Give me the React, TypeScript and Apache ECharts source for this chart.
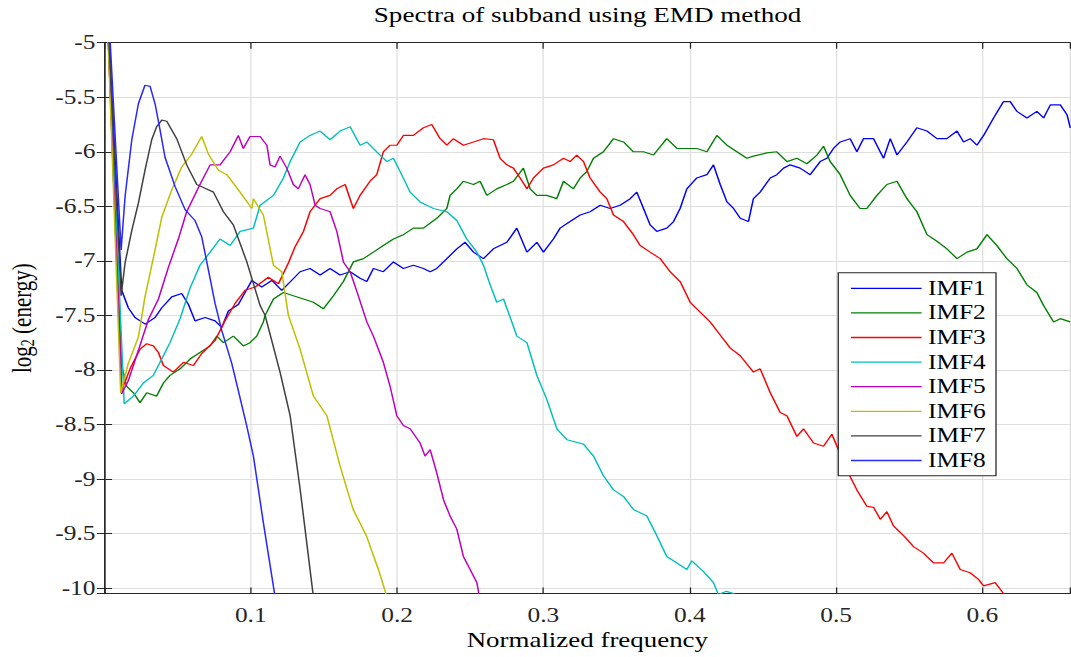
import React, { useEffect, useRef } from "react";
import * as echarts from "echarts";

// ---------- data (normalized frequency, log2 energy) ----------
const seriesNames = ["IMF1", "IMF2", "IMF3", "IMF4", "IMF5", "IMF6", "IMF7", "IMF8"];
const seriesColors = ["#0000ff", "#008000", "#ff0000", "#00bfbf", "#bf00bf", "#bfbf00", "#404040", "#2828ff"];

const imf1 = [
  [0.001, -4.4], [0.0118, -7.27], [0.0163, -7.43], [0.0209, -7.52], [0.0278, -7.58], [0.0346, -7.52],
  [0.0392, -7.43], [0.046, -7.33], [0.0528, -7.3], [0.0574, -7.4], [0.0619, -7.55], [0.0688, -7.52],
  [0.0756, -7.55], [0.0802, -7.61], [0.0847, -7.46], [0.0915, -7.4], [0.1007, -7.18], [0.1075, -7.24],
  [0.1144, -7.18], [0.1212, -7.27], [0.1257, -7.21], [0.1337, -7.1], [0.1405, -7.07], [0.1474, -7.13],
  [0.1542, -7.07], [0.161, -7.13], [0.1679, -7.1], [0.1747, -7.16], [0.1793, -7.19], [0.1838, -7.07],
  [0.1906, -7.1], [0.1975, -7.01], [0.2043, -7.07], [0.2111, -7.04], [0.218, -7.07], [0.2226, -7.1],
  [0.2271, -7.07], [0.234, -6.98], [0.2408, -6.89], [0.2465, -6.83], [0.2522, -6.92], [0.259, -6.98],
  [0.2658, -6.89], [0.275, -6.83], [0.2818, -6.7], [0.2887, -6.92], [0.2955, -6.83], [0.3, -6.92],
  [0.3068, -6.8], [0.3114, -6.7], [0.3182, -6.64], [0.3251, -6.58], [0.3319, -6.55], [0.3388, -6.49],
  [0.3456, -6.52], [0.3524, -6.49], [0.3593, -6.43], [0.3638, -6.37], [0.3684, -6.52], [0.3729, -6.67],
  [0.3775, -6.73], [0.3843, -6.7], [0.3889, -6.64], [0.3934, -6.52], [0.398, -6.34], [0.4048, -6.24],
  [0.4117, -6.21], [0.4162, -6.12], [0.4208, -6.3], [0.4254, -6.46], [0.4299, -6.52], [0.4345, -6.61],
  [0.4401, -6.64], [0.4435, -6.43], [0.4481, -6.37], [0.455, -6.24], [0.4595, -6.21], [0.4641, -6.15],
  [0.4686, -6.12], [0.4754, -6.15], [0.4823, -6.21], [0.4891, -6.09], [0.4937, -6.06], [0.4982, -5.97],
  [0.5028, -5.91], [0.5096, -5.88], [0.5142, -6.0], [0.5187, -5.88], [0.5256, -5.88], [0.5324, -6.06],
  [0.537, -5.88], [0.5416, -6.03], [0.5484, -5.91], [0.5552, -5.78], [0.5621, -5.81], [0.5689, -5.88],
  [0.5757, -5.88], [0.5826, -5.81], [0.5871, -5.91], [0.5916, -5.88], [0.5962, -5.94], [0.6008, -5.85],
  [0.6076, -5.69], [0.6144, -5.54], [0.619, -5.54], [0.6236, -5.63], [0.6304, -5.69], [0.6372, -5.63],
  [0.6418, -5.69], [0.6464, -5.57], [0.6532, -5.57], [0.6578, -5.66], [0.66, -5.78],
];

const imf2 = [
  [0.001, -4.4], [0.0118, -7.96], [0.0152, -8.15], [0.0198, -8.21], [0.0243, -8.3], [0.0289, -8.21],
  [0.0357, -8.24], [0.0403, -8.12], [0.0448, -8.05], [0.0517, -7.99], [0.0585, -7.9], [0.0653, -7.84],
  [0.0722, -7.78], [0.0768, -7.69], [0.0813, -7.75], [0.0881, -7.69], [0.0949, -7.78], [0.0995, -7.75],
  [0.1041, -7.69], [0.1086, -7.56], [0.1098, -7.5], [0.1155, -7.35], [0.1223, -7.29], [0.1291, -7.32],
  [0.136, -7.35], [0.1428, -7.38], [0.1496, -7.44], [0.1565, -7.32], [0.1633, -7.19], [0.1701, -7.01],
  [0.177, -6.98], [0.1838, -6.92], [0.1906, -6.86], [0.1975, -6.8], [0.2043, -6.76], [0.2111, -6.7],
  [0.218, -6.7], [0.2271, -6.61], [0.234, -6.52], [0.2362, -6.4], [0.2408, -6.34], [0.2453, -6.27],
  [0.2522, -6.3], [0.2567, -6.27], [0.2613, -6.4], [0.2681, -6.34], [0.275, -6.3], [0.2795, -6.27],
  [0.2863, -6.15], [0.2909, -6.34], [0.2955, -6.4], [0.3023, -6.4], [0.3091, -6.43], [0.3137, -6.27],
  [0.3205, -6.34], [0.3251, -6.24], [0.3297, -6.18], [0.3342, -6.06], [0.341, -6.0], [0.3479, -5.88],
  [0.3547, -5.91], [0.3615, -6.0], [0.3684, -6.0], [0.3752, -6.03], [0.3843, -5.88], [0.3912, -5.97],
  [0.398, -5.97], [0.4048, -5.97], [0.4117, -6.0], [0.4185, -5.85], [0.4254, -5.94], [0.4322, -6.0],
  [0.439, -6.06], [0.4435, -6.04], [0.4527, -6.01], [0.4595, -6.0], [0.4664, -6.09], [0.4732, -6.06],
  [0.48, -6.11], [0.4869, -6.03], [0.4914, -5.95], [0.496, -6.09], [0.5028, -6.21], [0.5096, -6.4],
  [0.5164, -6.52], [0.521, -6.52], [0.5279, -6.4], [0.5347, -6.3], [0.5416, -6.27], [0.5484, -6.43],
  [0.5552, -6.55], [0.5621, -6.76], [0.5689, -6.82], [0.5757, -6.89], [0.5826, -6.98], [0.5894, -6.92],
  [0.5962, -6.89], [0.6031, -6.76], [0.6099, -6.86], [0.6167, -6.98], [0.6236, -7.07], [0.6304, -7.22],
  [0.6372, -7.29], [0.6418, -7.41], [0.6486, -7.56], [0.6532, -7.53], [0.66, -7.56],
];

const imf3 = [
  [0.001, -4.4], [0.0118, -8.19], [0.0175, -7.99], [0.0243, -7.81], [0.0289, -7.76], [0.0334, -7.78],
  [0.0369, -7.84], [0.0403, -7.96], [0.0471, -8.02], [0.054, -7.93], [0.0608, -7.96], [0.0665, -7.85],
  [0.0756, -7.73], [0.0824, -7.55], [0.0893, -7.39], [0.0961, -7.27], [0.103, -7.24], [0.112, -7.15],
  [0.1189, -7.21], [0.1257, -7.02], [0.1303, -6.87], [0.136, -6.73], [0.1405, -6.55], [0.1474, -6.43],
  [0.1542, -6.4], [0.1588, -6.34], [0.1645, -6.3], [0.1701, -6.52], [0.1747, -6.4], [0.1815, -6.27],
  [0.1861, -6.21], [0.1906, -6.0], [0.1952, -5.94], [0.1998, -5.94], [0.2043, -5.85], [0.2111, -5.85],
  [0.218, -5.78], [0.2237, -5.75], [0.2294, -5.88], [0.234, -5.94], [0.2385, -5.88], [0.2453, -5.94],
  [0.2522, -5.91], [0.259, -5.88], [0.2658, -5.89], [0.2704, -6.06], [0.275, -6.12], [0.2795, -6.15],
  [0.2841, -6.24], [0.2887, -6.34], [0.2932, -6.24], [0.3, -6.15], [0.3068, -6.12], [0.3137, -6.06],
  [0.3182, -6.09], [0.3228, -6.03], [0.3274, -6.09], [0.3319, -6.24], [0.3388, -6.37], [0.3433, -6.43],
  [0.3479, -6.58], [0.3547, -6.64], [0.3615, -6.76], [0.3661, -6.86], [0.3729, -6.92], [0.3798, -6.98],
  [0.3866, -7.1], [0.3934, -7.19], [0.4003, -7.38], [0.4071, -7.47], [0.4139, -7.56], [0.4208, -7.68],
  [0.4277, -7.8], [0.4345, -7.87], [0.4435, -8.02], [0.4481, -7.99], [0.455, -8.21], [0.4618, -8.39],
  [0.4664, -8.42], [0.4732, -8.61], [0.4777, -8.54], [0.4846, -8.67], [0.4914, -8.7], [0.4971, -8.59],
  [0.5006, -8.7], [0.5074, -8.92], [0.5142, -9.1], [0.521, -9.25], [0.5256, -9.26], [0.5302, -9.37],
  [0.5347, -9.3], [0.5392, -9.43], [0.5461, -9.52], [0.5529, -9.62], [0.5597, -9.68], [0.5666, -9.77],
  [0.5734, -9.77], [0.5791, -9.68], [0.5848, -9.83], [0.5916, -9.86], [0.5973, -9.92], [0.6008, -9.98],
  [0.6087, -9.95], [0.6144, -10.05], [0.617, -10.1],
];

const imf4 = [
  [0.001, -4.4], [0.0135, -8.31], [0.0198, -8.24], [0.0266, -8.12], [0.0334, -8.05], [0.0403, -7.87],
  [0.0448, -7.75], [0.0517, -7.53], [0.0585, -7.25], [0.0653, -7.04], [0.0722, -6.92], [0.079, -6.8],
  [0.0859, -6.86], [0.0927, -6.73], [0.1018, -6.7], [0.1064, -6.49], [0.1155, -6.4], [0.1223, -6.24],
  [0.1269, -6.09], [0.1337, -5.91], [0.1405, -5.85], [0.1474, -5.81], [0.1542, -5.89], [0.161, -5.81],
  [0.1679, -5.77], [0.1747, -5.94], [0.1793, -5.91], [0.1861, -6.0], [0.193, -6.09], [0.1975, -6.06],
  [0.202, -6.18], [0.2089, -6.37], [0.2157, -6.46], [0.2248, -6.52], [0.234, -6.55], [0.2408, -6.63],
  [0.2476, -6.8], [0.2545, -6.92], [0.259, -7.04], [0.2636, -7.22], [0.2681, -7.38], [0.2727, -7.35],
  [0.2784, -7.56], [0.2818, -7.69], [0.2887, -7.75], [0.2955, -8.05], [0.3023, -8.27], [0.3092, -8.54],
  [0.316, -8.64], [0.3274, -8.68], [0.3342, -8.79], [0.341, -8.97], [0.3479, -9.1], [0.3547, -9.16],
  [0.3615, -9.28], [0.3707, -9.34], [0.3775, -9.52], [0.3843, -9.71], [0.3912, -9.77], [0.398, -9.83],
  [0.4014, -9.75], [0.4094, -9.85], [0.4162, -9.95], [0.4196, -10.06], [0.425, -10.03], [0.43, -10.05],
  [0.432, -10.1],
];

const imf5 = [
  [0.001, -4.4], [0.0118, -8.22], [0.0163, -8.1], [0.0232, -7.82], [0.03, -7.54], [0.0369, -7.35],
  [0.0437, -7.06], [0.0505, -6.8], [0.0562, -6.55], [0.0653, -6.3], [0.0722, -6.12], [0.079, -6.12],
  [0.0859, -6.0], [0.0915, -5.85], [0.0949, -5.97], [0.0995, -5.86], [0.1064, -5.86], [0.111, -5.94],
  [0.1132, -6.12], [0.1166, -6.14], [0.12, -6.04], [0.1246, -6.15], [0.1291, -6.3], [0.1325, -6.34],
  [0.1371, -6.21], [0.1405, -6.3], [0.144, -6.49], [0.1474, -6.52], [0.1542, -6.55], [0.1588, -6.73],
  [0.1633, -7.01], [0.1679, -7.1], [0.1725, -7.28], [0.1793, -7.56], [0.1838, -7.69], [0.1906, -7.93],
  [0.1952, -8.15], [0.1998, -8.42], [0.2043, -8.51], [0.2089, -8.54], [0.2157, -8.67], [0.2191, -8.79],
  [0.2226, -8.73], [0.227, -8.94], [0.2317, -9.19], [0.2362, -9.34], [0.2408, -9.46], [0.2453, -9.71],
  [0.2499, -9.83], [0.2545, -9.95], [0.2563, -10.08],
];

const imf6 = [
  [0.001, -4.4], [0.0111, -8.21], [0.0163, -7.94], [0.0232, -7.7], [0.0277, -7.33], [0.0346, -6.9],
  [0.0392, -6.6], [0.046, -6.35], [0.0528, -6.14], [0.0597, -6.02], [0.0665, -5.86], [0.071, -6.02],
  [0.0779, -6.17], [0.0836, -6.21], [0.0927, -6.37], [0.1007, -6.52], [0.1018, -6.43], [0.1086, -6.58],
  [0.1155, -7.04], [0.1212, -7.1], [0.1257, -7.5], [0.1337, -7.81], [0.1428, -8.24], [0.152, -8.42],
  [0.161, -8.88], [0.17, -9.28], [0.179, -9.52], [0.188, -9.86], [0.193, -10.08],
];

const imf7 = [
  [0.001, -4.4], [0.0114, -7.32], [0.0141, -7.02], [0.0187, -6.72], [0.0232, -6.47], [0.0277, -6.17],
  [0.0323, -5.89], [0.0357, -5.77], [0.0392, -5.71], [0.0426, -5.72], [0.0494, -5.88], [0.0562, -6.12],
  [0.0631, -6.3], [0.068, -6.33], [0.0745, -6.37], [0.0813, -6.55], [0.0881, -6.67], [0.0973, -7.01],
  [0.1064, -7.41], [0.1098, -7.5], [0.12, -8.02], [0.1269, -8.42], [0.1337, -9.09], [0.1428, -10.08],
];

const imf8 = [
  [0.002, -4.5], [0.0114, -6.9], [0.0141, -6.41], [0.0187, -5.89], [0.0232, -5.56], [0.0277, -5.39],
  [0.0312, -5.4], [0.0346, -5.56], [0.038, -5.8], [0.0414, -6.05], [0.0483, -6.32], [0.0551, -6.53],
  [0.0619, -6.63], [0.0665, -6.78], [0.071, -7.08], [0.0756, -7.39], [0.0802, -7.64], [0.087, -7.94],
  [0.0915, -8.19], [0.0972, -8.51], [0.1018, -8.79], [0.1086, -9.4], [0.1166, -10.08],
];

const seriesData = [imf1, imf2, imf3, imf4, imf5, imf6, imf7, imf8];

// ---------- layout ----------
const PAGE_W = 1071;
const PAGE_H = 657;
const CHART_W = 843;
const STRETCH = PAGE_W / CHART_W;
const FONT = "'Liberation Serif', 'Times New Roman', Times, serif";
const AXIS_COLOR = "#262626";
const GRID_COLOR = "#dedede";

function fmtX(v: number) {
  if (v <= 0) return "";
  if (Math.abs(v * 10 - Math.round(v * 10)) > 1e-6) return "";
  return String(Number(v.toFixed(1)));
}
function fmtY(v: number) {
  if (Math.abs(v * 2 - Math.round(v * 2)) > 1e-6) return "";
  return String(Number(v.toFixed(1)));
}

export default function App() {
  const ref = useRef<HTMLDivElement>(null);

  useEffect(() => {
    if (!ref.current) return;
    const chart = echarts.init(ref.current, null, { renderer: "svg", width: CHART_W, height: PAGE_H });
    const tickStyle = { inside: true, length: 6, lineStyle: { color: AXIS_COLOR, width: 1 } };
    const lineStyle = { show: true, lineStyle: { color: AXIS_COLOR, width: 1 } };
    const option: any = {
      animation: false,
      backgroundColor: "#ffffff",
      title: {
        text: "Spectra of subband using EMD method",
        left: 462.5,
        top: 4.5,
        padding: 0,
        textAlign: "center",
        textStyle: { fontFamily: FONT, fontSize: 21.3, fontWeight: "normal", color: "#000000" },
      },
      grid: {
        left: 82.2,
        right: 0.6,
        top: 42.7,
        bottom: 63.5,
        containLabel: false,
        outerBoundsMode: "none",
      },
      legend: {
        orient: "vertical",
        left: 659.8,
        top: 272.7,
        padding: [5.6, 8, 5.3, 10],
        itemGap: 4.6,
        itemWidth: 55.6,
        itemHeight: 1.3,
        icon: "rect",
        backgroundColor: "#ffffff",
        borderColor: AXIS_COLOR,
        borderWidth: 1,
        borderRadius: 0,
        textStyle: { fontFamily: FONT, fontSize: 20, color: "#000000", lineHeight: 20 },
        data: seriesNames,
      },
      xAxis: [
        {
          type: "value",
          position: "bottom",
          min: 0,
          max: 0.66,
          interval: 0.1,
          name: "Normalized frequency",
          nameLocation: "middle",
          nameGap: 36,
          nameMoveOverlap: false,
          nameTextStyle: { fontFamily: FONT, fontSize: 21.2, color: "#000000" },
          axisLine: lineStyle,
          axisTick: tickStyle,
          axisLabel: { margin: 12, fontFamily: FONT, fontSize: 20, color: AXIS_COLOR, formatter: fmtX },
          splitLine: { show: true, lineStyle: { color: GRID_COLOR, width: 1 } },
        },
        {
          type: "value",
          position: "top",
          min: 0,
          max: 0.66,
          interval: 0.1,
          axisLine: lineStyle,
          axisTick: tickStyle,
          axisLabel: { show: false },
          splitLine: { show: false },
        },
      ],
      yAxis: [
        {
          type: "value",
          position: "left",
          min: -10.05,
          max: -5,
          splitNumber: 10,
          minInterval: 0.5,
          maxInterval: 0.5,
          name: "{a|log}{b|2}{a| (energy)}",
          nameLocation: "middle",
          nameRotate: 90,
          nameGap: 50,
          nameMoveOverlap: false,
          nameTextStyle: {
            rich: {
              a: { fontFamily: FONT, fontSize: 21, color: "#000000", lineHeight: 30 },
              b: { fontFamily: FONT, fontSize: 14, color: "#000000", lineHeight: 30, padding: [10, 0, 0, 0] },
            },
          },
          axisLine: lineStyle,
          axisTick: tickStyle,
          axisLabel: { margin: 7, fontFamily: FONT, fontSize: 20, color: AXIS_COLOR, formatter: fmtY },
          splitLine: { show: true, lineStyle: { color: GRID_COLOR, width: 1 } },
        },
        {
          type: "value",
          position: "right",
          min: -10.05,
          max: -5,
          splitNumber: 10,
          minInterval: 0.5,
          maxInterval: 0.5,
          axisLine: lineStyle,
          axisTick: tickStyle,
          axisLabel: { show: false },
          splitLine: { show: false },
        },
      ],
      series: seriesNames.map((name, i) => ({
        name,
        type: "line",
        xAxisIndex: 0,
        yAxisIndex: 0,
        data: seriesData[i],
        symbol: "none",
        showSymbol: false,
        clip: true,
        lineStyle: { color: seriesColors[i], width: 1.2 },
        itemStyle: { color: seriesColors[i] },
        emphasis: { disabled: true },
      })),
    };
    chart.setOption(option);
    return () => chart.dispose();
  }, []);

  return (
    <div
      style={{
        position: "fixed",
        left: 0,
        top: 0,
        width: PAGE_W,
        height: PAGE_H,
        overflow: "hidden",
        background: "#ffffff",
      }}
    >
      <div
        ref={ref}
        style={{
          width: CHART_W,
          height: PAGE_H,
          transform: `scaleX(${STRETCH})`,
          transformOrigin: "0 0",
        }}
      />
    </div>
  );
}
